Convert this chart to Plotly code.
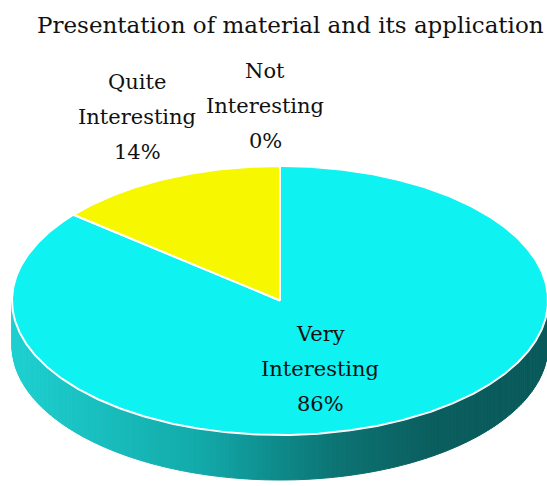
import numpy as np
import plotly.graph_objects as go

# ---- data ----
categories = ["Very Interesting", "Quite Interesting", "Not Interesting"]
values = [86, 14, 0]
title_text = "Presentation of material and its application"

# ---- style ----
slice_colors = [(14, 242, 242), (247, 247, 0), (200, 200, 200)]
W, H = 547, 486
cx, cy, rx, ry, depth = 280, 300.5, 268, 134.5, 45
label_font = dict(family="DejaVu Serif", size=21, color="#111111")
label_pos = {"Very Interesting": (320, 334), "Quite Interesting": (137, 82), "Not Interesting": (265, 71)}
line_pitch = 35

def rim(theta_deg, dy=0.0):
    t = np.radians(theta_deg)
    return cx + rx * np.sin(t), cy - ry * np.cos(t) + dy

def shade(xn):
    # factor along x (left light -> right dark)
    stops = [(0.0, 0.86), (0.35, 0.70), (0.6, 0.48), (0.78, 0.39), (1.0, 0.37)]
    xs = [s[0] for s in stops]; fs = [s[1] for s in stops]
    return float(np.interp(xn, xs, fs))

fig = go.Figure()

total = float(sum(values))
bounds = []
start = 0.0
for v in values:
    end = start + 360.0 * v / total
    bounds.append((start, end))
    start = end

# side strips (front half: theta 90..270)
thetas = np.linspace(90, 270, 181)
for a, b in zip(thetas[:-1], thetas[1:]):
    mid = 0.5 * (a + b)
    idx = 0
    for i, (s, e) in enumerate(bounds):
        if s <= mid < e:
            idx = i
    x1, y1 = rim(a); x2, y2 = rim(b)
    xn = ((x1 + x2) / 2 - (cx - rx)) / (2 * rx)
    f = shade(xn)
    r, g, bb = [int(round(c * f)) for c in slice_colors[idx]]
    if idx == 0:
        r = int(round(np.interp(xn, [0, 0.5, 1], [30, 14, 9])))
    col = f"rgb({r},{g},{bb})"
    fig.add_trace(go.Scatter(
        x=[x1, x2, x2, x1, x1], y=[y1, y2, y2 + depth, y1 + depth, y1],
        mode="lines", fill="toself", fillcolor=col,
        line=dict(color=col, width=1), hoverinfo="skip", showlegend=False))

# top face slices
for i, (s, e) in enumerate(bounds):
    if e - s <= 0:
        continue
    ts = np.linspace(s, e, max(int((e - s) * 2), 4))
    xs, ys = rim(ts)
    px = np.concatenate([[cx], xs, [cx]])
    py = np.concatenate([[cy], ys, [cy]])
    r, g, b = slice_colors[i]
    fig.add_trace(go.Scatter(
        x=px, y=py, mode="lines", fill="toself", fillcolor=f"rgb({r},{g},{b})",
        line=dict(color="white", width=2), hoverinfo="skip", showlegend=False,
        name=categories[i]))

# labels
for cat, v in zip(categories, values):
    lx, ly = label_pos[cat]
    lines = cat.split(" ") + [f"{v}%"]
    for k, t in enumerate(lines):
        fig.add_annotation(x=lx, y=ly + k * line_pitch, text=t, showarrow=False,
                           xref="x", yref="y", xanchor="center", yanchor="middle",
                           font=label_font)

fig.add_annotation(x=290, y=25, text=title_text, showarrow=False, xref="x", yref="y",
                   xanchor="center", yanchor="middle",
                   font=dict(family="DejaVu Serif", size=23, color="#111111"))

fig.update_layout(
    width=W, height=H, margin=dict(l=0, r=0, t=0, b=0),
    paper_bgcolor="white", plot_bgcolor="white",
    xaxis=dict(range=[0, W], visible=False, fixedrange=True),
    yaxis=dict(range=[H, 0], visible=False, fixedrange=True),
)
fig.write_html("out.html")
